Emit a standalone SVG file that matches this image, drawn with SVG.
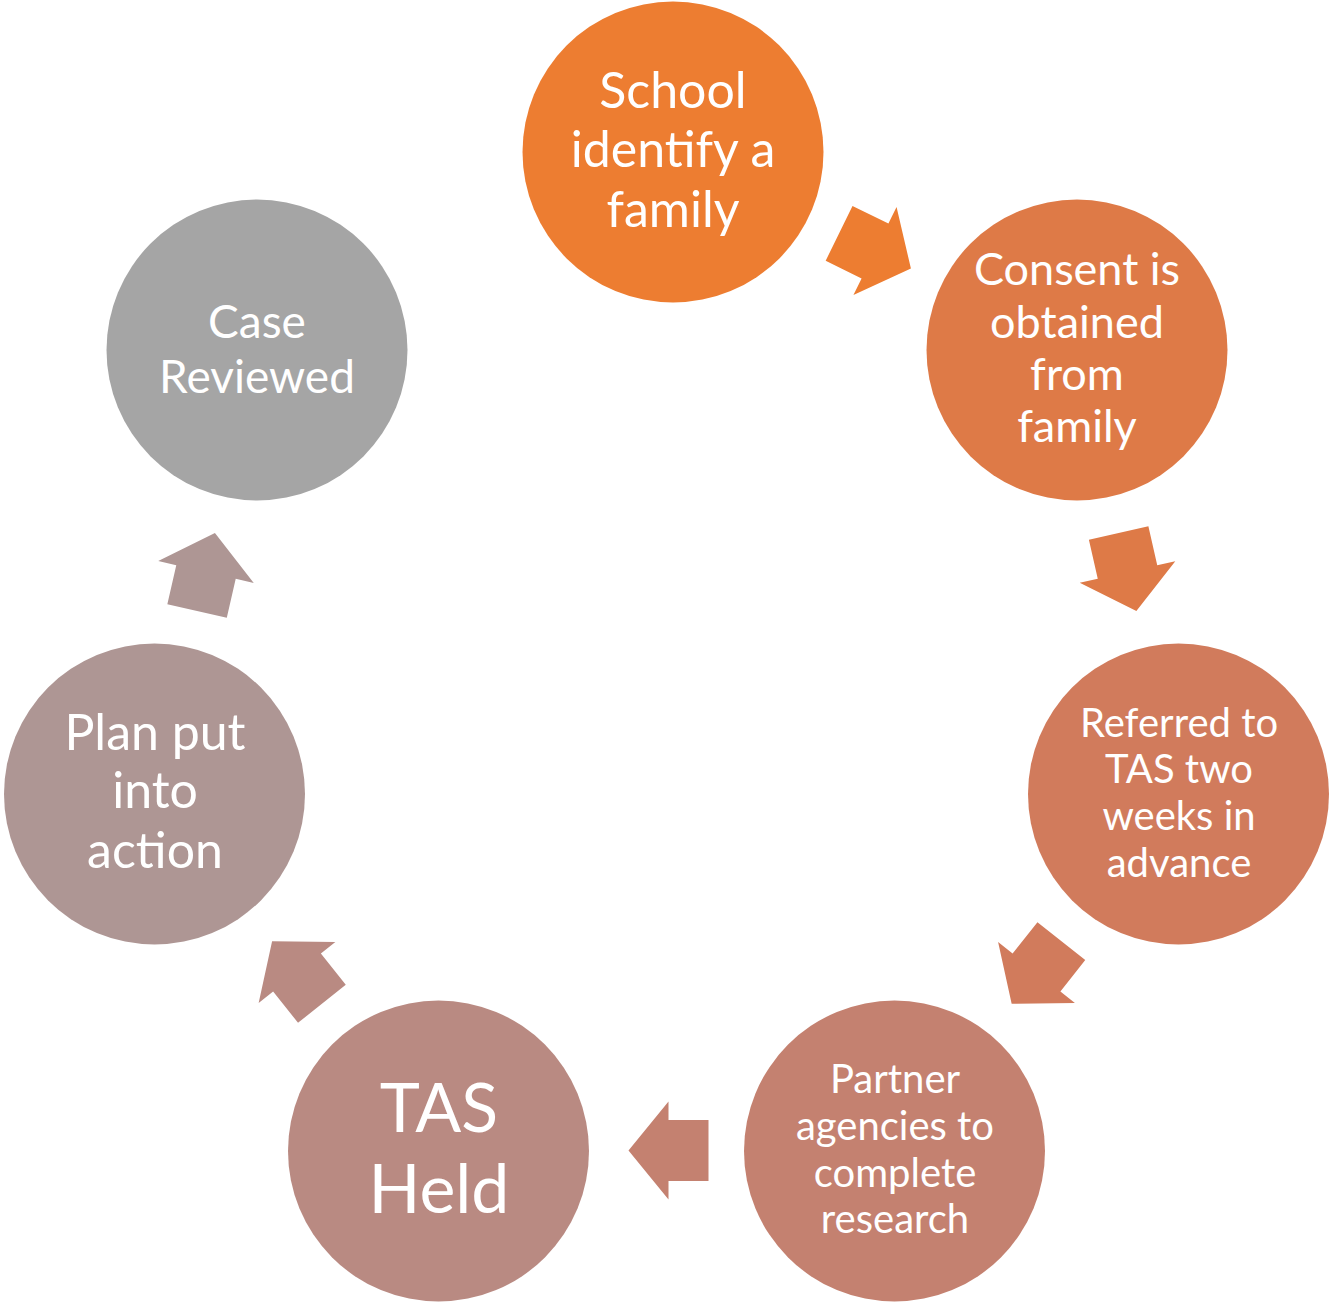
<svg xmlns="http://www.w3.org/2000/svg" xmlns:xlink="http://www.w3.org/1999/xlink" width="1330" height="1302" viewBox="0 0 1330 1302">
<style>
  .lbl { font-family: Lato, "Open Sans", "Liberation Sans", sans-serif; fill: #ffffff; text-anchor: middle; }
</style>
<defs>
  <polygon id="arr" points="-40,-30.5 0,-30.5 0,-49 40,0 0,49 0,30.5 -40,30.5"/>
</defs>
<rect width="1330" height="1302" fill="#ffffff"/>
<g id="connectors">
  <use xlink:href="#arr" href="#arr" fill="#ED7D31" transform="translate(875,251) rotate(26.1)"/>
  <use xlink:href="#arr" href="#arr" fill="#DE7A47" transform="translate(1127.5,572) rotate(77.2)"/>
  <use xlink:href="#arr" href="#arr" fill="#D17B5C" transform="translate(1036.5,972.5) rotate(128.4)"/>
  <use xlink:href="#arr" href="#arr" fill="#C48170" transform="translate(668.5,1150.5) rotate(180)"/>
  <use xlink:href="#arr" href="#arr" fill="#B98A82" transform="translate(297,972.5) rotate(231.5)"/>
  <use xlink:href="#arr" href="#arr" fill="#AE9694" transform="translate(206,572) rotate(-77.1)"/>
</g>
<g id="node1">
  <circle cx="673" cy="152" r="150.5" fill="#ED7D31"/>
  <text class="lbl" font-size="50" x="673" y="108">School</text>
  <text class="lbl" font-size="50" x="673" y="167">identify a</text>
  <text class="lbl" font-size="50" x="673" y="227">family</text>
</g>
<g id="node2">
  <circle cx="1077" cy="350" r="150.5" fill="#DE7A47"/>
  <text class="lbl" font-size="45" x="1077" y="285">Consent is</text>
  <text class="lbl" font-size="45" x="1077" y="338">obtained</text>
  <text class="lbl" font-size="45" x="1077" y="390">from</text>
  <text class="lbl" font-size="45" x="1077" y="442">family</text>
</g>
<g id="node3">
  <circle cx="1178.5" cy="794" r="150.5" fill="#D17B5C"/>
  <text class="lbl" font-size="40" x="1179" y="737">Referred to</text>
  <text class="lbl" font-size="40" x="1179" y="783">TAS two</text>
  <text class="lbl" font-size="40" x="1179" y="830">weeks in</text>
  <text class="lbl" font-size="40" x="1179" y="877">advance</text>
</g>
<g id="node4">
  <circle cx="894.5" cy="1151" r="150.5" fill="#C48170"/>
  <text class="lbl" font-size="40" x="895" y="1093">Partner</text>
  <text class="lbl" font-size="40" x="895" y="1140">agencies to</text>
  <text class="lbl" font-size="40" x="895" y="1187">complete</text>
  <text class="lbl" font-size="40" x="895" y="1233">research</text>
</g>
<g id="node5">
  <circle cx="438.5" cy="1151" r="150.5" fill="#B98A82"/>
  <text class="lbl" font-size="68" x="439" y="1132">TAS</text>
  <text class="lbl" font-size="68" x="439" y="1213">Held</text>
</g>
<g id="node6">
  <circle cx="154.5" cy="794" r="150.5" fill="#AE9694"/>
  <text class="lbl" font-size="50" x="155" y="750">Plan put</text>
  <text class="lbl" font-size="50" x="155" y="808">into</text>
  <text class="lbl" font-size="50" x="155" y="868">action</text>
</g>
<g id="node7">
  <circle cx="257" cy="350" r="150.5" fill="#A5A5A5"/>
  <text class="lbl" font-size="46" x="257" y="338">Case</text>
  <text class="lbl" font-size="46" x="257" y="393">Reviewed</text>
</g>
</svg>
